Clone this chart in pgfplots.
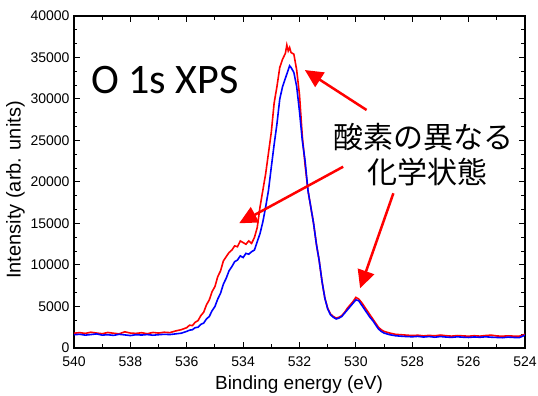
\documentclass[border=0pt]{standalone}
\usepackage{pgfplots}
\pgfplotsset{compat=1.18}
\usepackage{fontspec}
\setmainfont{Liberation Sans}
\newfontfamily\calibri{Carlito}
\newfontfamily\cjk{Noto Sans CJK JP}
\usetikzlibrary{arrows.meta}
\pgfplotstableread{
x y
540.0 1780
539.8 1850
539.6 1760
539.4 1900
539.2 1800
539.0 1720
538.8 1870
538.6 1780
538.4 1700
538.2 1950
538.0 1800
537.8 1760
537.6 1840
537.4 1720
537.2 1870
537.0 1800
536.8 1900
536.6 1850
536.4 2050
536.2 2200
536.0 2450
535.9 2750
535.8 2700
535.7 3100
535.6 3300
535.5 3900
535.4 4300
535.3 5200
535.2 5800
535.1 6800
535.0 7400
534.9 8600
534.8 9300
534.7 10500
534.6 11000
534.5 11500
534.4 11800
534.3 12300
534.2 12200
534.1 12900
534.0 12700
533.9 12500
533.8 12900
533.7 12600
533.6 13300
533.5 14500
533.4 17000
533.3 19000
533.2 21000
533.1 23500
533.0 26000
532.9 29500
532.8 31500
532.7 33800
532.6 34800
532.5 35500
532.45 36500
532.4 35800
532.35 36200
532.3 35600
532.2 35400
532.1 33500
532.0 30500
531.9 25500
531.8 22000
531.7 19000
531.6 17000
531.5 15000
531.4 12500
531.3 10500
531.2 8000
531.1 6000
531.0 4800
530.9 4100
530.8 3800
530.7 3600
530.6 3700
530.5 3900
530.4 4300
530.3 4800
530.2 5200
530.1 5600
530.0 6100
529.9 5900
529.8 5500
529.7 5000
529.6 4500
529.5 4000
529.4 3500
529.3 3000
529.2 2500
529.1 2200
529.0 2000
528.8 1800
528.6 1650
528.4 1600
528.2 1550
528.0 1500
527.8 1540
527.6 1460
527.4 1520
527.2 1470
527.0 1560
526.8 1480
526.6 1430
526.4 1500
526.2 1460
526.0 1420
525.8 1480
525.6 1430
525.4 1500
525.2 1550
525.0 1450
524.8 1420
524.6 1470
524.4 1430
524.2 1420
524.0 1650
}\red
\pgfplotstableread{
x y
540.0 1600
539.8 1650
539.6 1550
539.4 1620
539.2 1700
539.0 1550
538.8 1600
538.6 1520
538.4 1650
538.2 1580
538.0 1500
537.8 1600
537.6 1560
537.4 1620
537.2 1540
537.0 1600
536.8 1650
536.6 1620
536.4 1700
536.2 1780
536.0 2000
535.9 2150
535.8 2200
535.7 2450
535.6 2500
535.5 2850
535.4 3000
535.3 3500
535.2 3800
535.1 4500
535.0 5000
534.9 5900
534.8 6600
534.7 7700
534.6 8400
534.5 9300
534.4 9800
534.3 10400
534.2 10600
534.1 11100
534.0 10900
533.9 11400
533.8 11300
533.7 11600
533.6 11800
533.5 12800
533.4 13800
533.3 15200
533.2 17000
533.1 19000
533.0 21800
532.9 24500
532.8 27000
532.7 30000
532.6 31500
532.5 32500
532.4 33500
532.35 34000
532.3 33800
532.2 33200
532.1 31500
532.0 28500
531.9 25000
531.8 22500
531.7 19000
531.6 17000
531.5 15000
531.4 12500
531.3 10500
531.2 8000
531.1 6000
531.0 4700
530.9 4000
530.8 3700
530.7 3500
530.6 3600
530.5 3800
530.4 4200
530.3 4600
530.2 5000
530.1 5400
530.0 5800
529.9 5700
529.8 5200
529.7 4700
529.6 4200
529.5 3700
529.4 3300
529.3 2800
529.2 2300
529.1 2000
529.0 1800
528.8 1600
528.6 1480
528.4 1420
528.2 1380
528.0 1350
527.8 1400
527.6 1320
527.4 1380
527.2 1300
527.0 1380
526.8 1320
526.6 1280
526.4 1350
526.2 1300
526.0 1270
525.8 1330
525.6 1290
525.4 1350
525.2 1300
525.0 1270
524.8 1240
524.6 1310
524.4 1270
524.2 1250
524.0 1550
}\blue
\begin{document}
\begin{tikzpicture}[x=1pt,y=1pt]
\useasboundingbox (0,0) rectangle (538,396);
\begin{axis}[
  at={(74pt,48pt)}, anchor=south west,
  width=451pt, height=332pt, scale only axis,
  x dir=reverse,
  xmin=524, xmax=540, ymin=0, ymax=40000,
  xtick={524,526,...,540}, minor x tick num=1,
  ytick={0,5000,...,40000}, minor y tick num=2,
  tick align=inside,
  major tick length=6pt, minor tick length=3.5pt,
  axis line style={line width=1.2pt},
  every tick/.style={line width=1pt, black},
  /pgf/number format/assume math mode=true,
  /pgf/number format/1000 sep={},
  scaled y ticks=false,
  tick label style={font=\fontsize{14}{16}\selectfont},
  xticklabel style={yshift=-5pt},
  yticklabel style={xshift=-1pt},
  xlabel={Binding energy (eV)},
  ylabel={Intensity (arb. units)},
  xlabel style={font=\fontsize{19}{21}\selectfont, at={(axis description cs:0.499,-0.111)}, anchor=center},
  ylabel style={font=\fontsize{20}{22}\selectfont, at={(axis description cs:-0.13,0.476)}, anchor=center},
]
\addplot[red, line width=1.6pt] table[x=x,y=y]{\red};
\addplot[blue, line width=1.6pt] table[x=x,y=y]{\blue};
\draw[red, line width=2.5pt, -{Triangle[length=18pt,width=17pt]}] (axis cs:529.62,28675) -- (axis cs:531.81,33490);
\draw[red, line width=2.5pt, -{Triangle[length=18pt,width=17pt]}] (axis cs:530.45,21840) -- (axis cs:534.14,15025);
\draw[red, line width=2.5pt, -{Triangle[length=18pt,width=17pt]}] (axis cs:528.67,18640) -- (axis cs:529.85,7190);
\end{axis}
\node[anchor=base west, inner sep=0pt, font=\calibri\fontsize{42}{44}\selectfont] at (91,302) {O 1s XPS};
\node[anchor=center, inner sep=0pt, font=\cjk\fontsize{30}{32}\selectfont] at (423,259) {酸素の異なる};
\node[anchor=center, inner sep=0pt, font=\cjk\fontsize{30}{32}\selectfont] at (427,224) {化学状態};
\end{tikzpicture}
\end{document}
